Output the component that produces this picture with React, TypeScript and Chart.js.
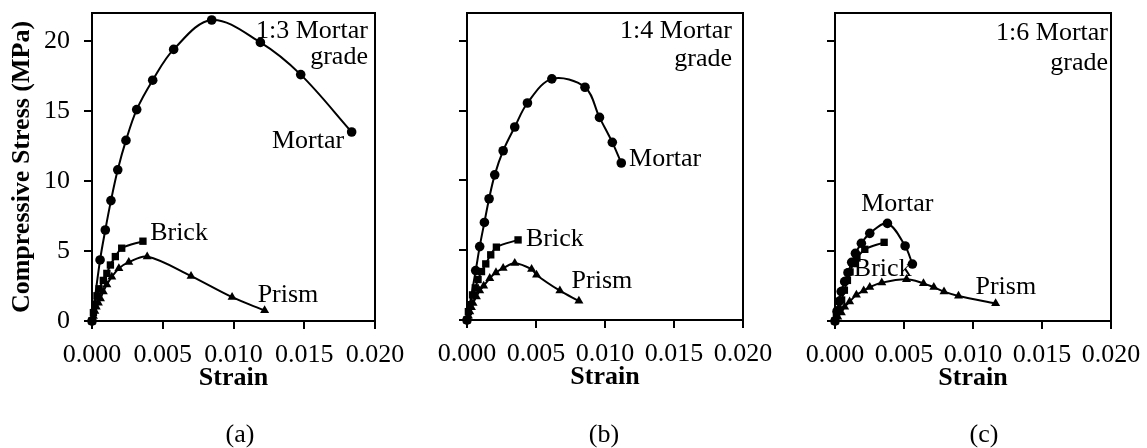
import React, { useEffect, useRef } from 'react';
import { Chart, registerables } from 'chart.js';
Chart.register(...registerables);

// ---- Axis ticks ----
const xTickValues = [0, 0.005, 0.01, 0.015, 0.02];
const xTickLabels = ['0.000', '0.005', '0.010', '0.015', '0.020'];
const yTickValues = [0, 5, 10, 15, 20];
const yTickLabels = ['0', '5', '10', '15', '20'];
const yTitle = 'Compressive Stress (MPa)';
const xTitle = 'Strain';

// ---- Panel (a) 1:3 mortar grade ----
const mortarAStrain = [0, 0.00057, 0.00094, 0.00134, 0.00182, 0.0024, 0.00316, 0.00429, 0.00577, 0.00846, 0.0119, 0.01475, 0.01835];
const mortarAStress = [0, 4.36, 6.5, 8.6, 10.8, 12.9, 15.1, 17.2, 19.4, 21.5, 19.9, 17.6, 13.5];
const brickAStrain = [0, 0.0001, 0.0002, 0.00035, 0.0005, 0.0008, 0.00105, 0.0013, 0.00165, 0.0021, 0.0036];
const brickAStress = [0, 0.6, 1.2, 1.8, 2.3, 2.9, 3.4, 4.0, 4.6, 5.2, 5.7];
const prismAStrain = [0, 0.0001, 0.0002, 0.0003, 0.00045, 0.0006, 0.0008, 0.00105, 0.0014, 0.0019, 0.0026, 0.0039, 0.007, 0.0099, 0.0122];
const prismAStress = [0, 0.35, 0.7, 1.0, 1.3, 1.6, 2.1, 2.6, 3.15, 3.75, 4.2, 4.6, 3.2, 1.7, 0.75];

// ---- Panel (b) 1:4 mortar grade ----
const mortarBStrain = [0, 0.00063, 0.00092, 0.00126, 0.0016, 0.00201, 0.00262, 0.00346, 0.00438, 0.00615, 0.00855, 0.0096, 0.01053, 0.01118];
const mortarBStress = [0, 3.54, 5.26, 6.99, 8.69, 10.4, 12.13, 13.83, 15.55, 17.28, 16.68, 14.52, 12.73, 11.25];
const brickBStrain = [0, 0.0001, 0.0002, 0.0004, 0.0006, 0.0008, 0.00105, 0.00136, 0.00172, 0.00213, 0.0037];
const brickBStress = [0, 0.6, 1.1, 1.8, 2.3, 2.9, 3.47, 4.02, 4.67, 5.22, 5.74];
const prismBStrain = [0, 0.0001, 0.0002, 0.00032, 0.00044, 0.00068, 0.00092, 0.00121, 0.00165, 0.0021, 0.00262, 0.00346, 0.00468, 0.00504, 0.00673, 0.00811];
const prismBStress = [0, 0.3, 0.6, 0.9, 1.2, 1.67, 2.1, 2.44, 2.99, 3.4, 3.71, 4.07, 3.64, 3.23, 2.1, 1.36];

// ---- Panel (c) 1:6 mortar grade ----
const mortarCStrain = [0, 0.00015, 0.0003, 0.00045, 0.0007, 0.00094, 0.00121, 0.00148, 0.00191, 0.00252, 0.0038, 0.00508, 0.00561];
const mortarCStress = [0, 0.7, 1.4, 2.1, 2.81, 3.45, 4.19, 4.83, 5.55, 6.26, 6.97, 5.36, 4.07];
const brickCStrain = [0, 0.0001, 0.0003, 0.00048, 0.00068, 0.0009, 0.00109, 0.00133, 0.00159, 0.00216, 0.00356];
const brickCStress = [0, 0.4, 0.8, 1.5, 2.2, 2.9, 3.5, 4.1, 4.5, 5.12, 5.62];
const prismCStrain = [0, 0.0002, 0.00046, 0.0007, 0.00106, 0.00155, 0.00208, 0.00252, 0.00339, 0.00518, 0.00641, 0.00716, 0.0079, 0.00895, 0.01164];
const prismCStress = [0, 0.3, 0.6, 1.0, 1.38, 1.86, 2.17, 2.41, 2.74, 2.98, 2.69, 2.41, 2.1, 1.79, 1.26];

// ---- Text labels ----
const seriesNames = ['Mortar', 'Brick', 'Prism'];
const gradeTitles = ['1:3 Mortar', '1:4 Mortar', '1:6 Mortar'];
const gradeWord = 'grade';
const captions = ['(a)', '(b)', '(c)'];

const FONT = '"Liberation Serif", "Times New Roman", serif';
const W = 1147;
const H = 448;

type Note = { text: string; x: number; y: number; align: CanvasTextAlign };
type Panel = {
  series: { xs: number[]; ys: number[]; style: string; r: number }[];
  notes: Note[];
  caption: string;
  captionX: number;
  left: number;
  right: number;
  bottom: number;
  showY: boolean;
};

const panels: Panel[] = [
  {
    series: [
      { xs: mortarAStrain, ys: mortarAStress, style: 'circle', r: 4.8 },
      { xs: brickAStrain, ys: brickAStress, style: 'rect', r: 5.2 },
      { xs: prismAStrain, ys: prismAStress, style: 'triangle', r: 5.2 },
    ],
    notes: [
      { text: gradeTitles[0], x: 0.0195, y: 20.7, align: 'right' },
      { text: gradeWord, x: 0.0195, y: 18.85, align: 'right' },
      { text: seriesNames[0], x: 0.01527, y: 12.85, align: 'center' },
      { text: seriesNames[1], x: 0.00615, y: 6.25, align: 'center' },
      { text: seriesNames[2], x: 0.01385, y: 1.86, align: 'center' },
    ],
    caption: captions[0],
    captionX: 240,
    left: 92,
    right: 375,
    bottom: 321,
    showY: true,
  },
  {
    series: [
      { xs: mortarBStrain, ys: mortarBStress, style: 'circle', r: 4.8 },
      { xs: brickBStrain, ys: brickBStress, style: 'rect', r: 5.2 },
      { xs: prismBStrain, ys: prismBStress, style: 'triangle', r: 5.2 },
    ],
    notes: [
      { text: gradeTitles[1], x: 0.0192, y: 20.7, align: 'right' },
      { text: gradeWord, x: 0.0192, y: 18.66, align: 'right' },
      { text: seriesNames[0], x: 0.01436, y: 11.56, align: 'center' },
      { text: seriesNames[1], x: 0.00637, y: 5.81, align: 'center' },
      { text: seriesNames[2], x: 0.00978, y: 2.8, align: 'center' },
    ],
    caption: captions[1],
    captionX: 604,
    left: 467,
    right: 743,
    bottom: 320,
    showY: false,
  },
  {
    series: [
      { xs: mortarCStrain, ys: mortarCStress, style: 'circle', r: 4.8 },
      { xs: brickCStrain, ys: brickCStress, style: 'rect', r: 5.2 },
      { xs: prismCStrain, ys: prismCStress, style: 'triangle', r: 5.2 },
    ],
    notes: [
      { text: gradeTitles[2], x: 0.01978, y: 20.57, align: 'right' },
      { text: gradeWord, x: 0.01978, y: 18.43, align: 'right' },
      { text: seriesNames[0], x: 0.00451, y: 8.36, align: 'center' },
      { text: seriesNames[1], x: 0.00346, y: 3.71, align: 'center' },
      { text: seriesNames[2], x: 0.01238, y: 2.43, align: 'center' },
    ],
    caption: captions[2],
    captionX: 984,
    left: 835,
    right: 1111,
    bottom: 321,
    showY: false,
  },
];

const frameAndText = {
  id: 'frameAndText',
  afterDatasetsDraw(chart: any, _args: any, opts: any) {
    const { ctx, chartArea: a, scales } = chart;
    ctx.save();
    ctx.strokeStyle = '#000';
    ctx.lineWidth = 2;
    ctx.strokeRect(a.left, a.top, a.right - a.left, a.bottom - a.top);
    ctx.fillStyle = '#000';
    ctx.font = `26px ${FONT}`;
    ctx.textBaseline = 'middle';
    for (const n of opts.notes as Note[]) {
      ctx.textAlign = n.align;
      ctx.fillText(n.text, scales.x.getPixelForValue(n.x), scales.y.getPixelForValue(n.y));
    }
    ctx.textAlign = 'center';
    ctx.fillText(opts.caption, opts.captionX, 435);
    ctx.restore();
  },
};

function PanelChart({ p }: { p: Panel }) {
  const ref = useRef<HTMLCanvasElement>(null);
  useEffect(() => {
    if (!ref.current) return;
    const yWidth = p.showY ? p.left : 10;
    const xHeight = 75;
    const chart = new Chart(ref.current, {
      type: 'scatter',
      data: {
        datasets: p.series.map((s, i) => ({
          label: seriesNames[i],
          data: s.xs.map((x, k) => ({ x, y: s.ys[k] })),
          showLine: true,
          tension: 0.35,
          borderColor: '#000',
          backgroundColor: '#000',
          borderWidth: 2,
          pointStyle: s.style as any,
          pointRadius: s.r,
          pointBorderWidth: 0,
          clip: false as any,
        })),
      },
      options: {
        animation: false,
        responsive: false,
        devicePixelRatio: 1,
        layout: {
          padding: {
            left: p.left - yWidth,
            right: W - p.right,
            top: 13,
            bottom: H - p.bottom - xHeight,
          },
        },
        plugins: {
          legend: { display: false },
          tooltip: { enabled: false },
          frameAndText: { notes: p.notes, caption: p.caption, captionX: p.captionX },
        } as any,
        scales: {
          x: {
            type: 'linear',
            min: 0,
            max: 0.02,
            afterFit: (s: any) => { s.height = xHeight; s.paddingLeft = 0; s.paddingRight = 0; s.paddingTop = 0; s.paddingBottom = 0; },
            afterBuildTicks: (s: any) => { s.ticks = xTickValues.map((v) => ({ value: v })); },
            ticks: {
              callback: (v: any) => { const i = xTickValues.findIndex((t) => Math.abs(t - v) < 1e-9); return i >= 0 ? xTickLabels[i] : ''; },
              color: '#000',
              font: { family: FONT, size: 26 },
              padding: 11,
              maxRotation: 0,
              autoSkip: false,
            },
            grid: { drawOnChartArea: false, drawTicks: true, tickLength: 8, color: '#000', lineWidth: 2 },
            border: { display: true, color: '#000', width: 2 },
            title: {
              display: true,
              text: xTitle,
              color: '#000',
              font: { family: FONT, size: 26, weight: 'bold', lineHeight: 1.2 },
              padding: { top: 0, bottom: 2 },
            },
          },
          y: {
            type: 'linear',
            min: 0,
            max: 22,
            afterFit: (s: any) => { s.width = yWidth; s.paddingLeft = 0; s.paddingRight = 0; s.paddingTop = 0; s.paddingBottom = 0; },
            afterBuildTicks: (s: any) => { s.ticks = yTickValues.map((v) => ({ value: v })); },
            ticks: {
              display: p.showY,
              callback: (v: any) => { const i = yTickValues.indexOf(v); return i >= 0 ? yTickLabels[i] : ''; },
              color: '#000',
              font: { family: FONT, size: 26 },
              padding: 14,
            },
            grid: { drawOnChartArea: false, drawTicks: true, tickLength: 8, color: '#000', lineWidth: 2 },
            border: { display: true, color: '#000', width: 2 },
            title: {
              display: p.showY,
              text: yTitle,
              color: '#000',
              font: { family: FONT, size: 26, weight: 'bold', lineHeight: 1.2 },
              padding: { top: 7, bottom: 0 },
            },
          },
        },
      },
      plugins: [frameAndText],
    });
    return () => chart.destroy();
  }, [p]);
  return (
    <canvas
      ref={ref}
      width={W}
      height={H}
      style={{ position: 'absolute', left: 0, top: 0, width: W, height: H }}
    />
  );
}

export default function App() {
  return (
    <div style={{ position: 'absolute', left: 0, top: 0, width: W, height: H, background: '#fff', overflow: 'hidden' }}>
      {panels.map((p, i) => (
        <PanelChart key={i} p={p} />
      ))}
    </div>
  );
}
